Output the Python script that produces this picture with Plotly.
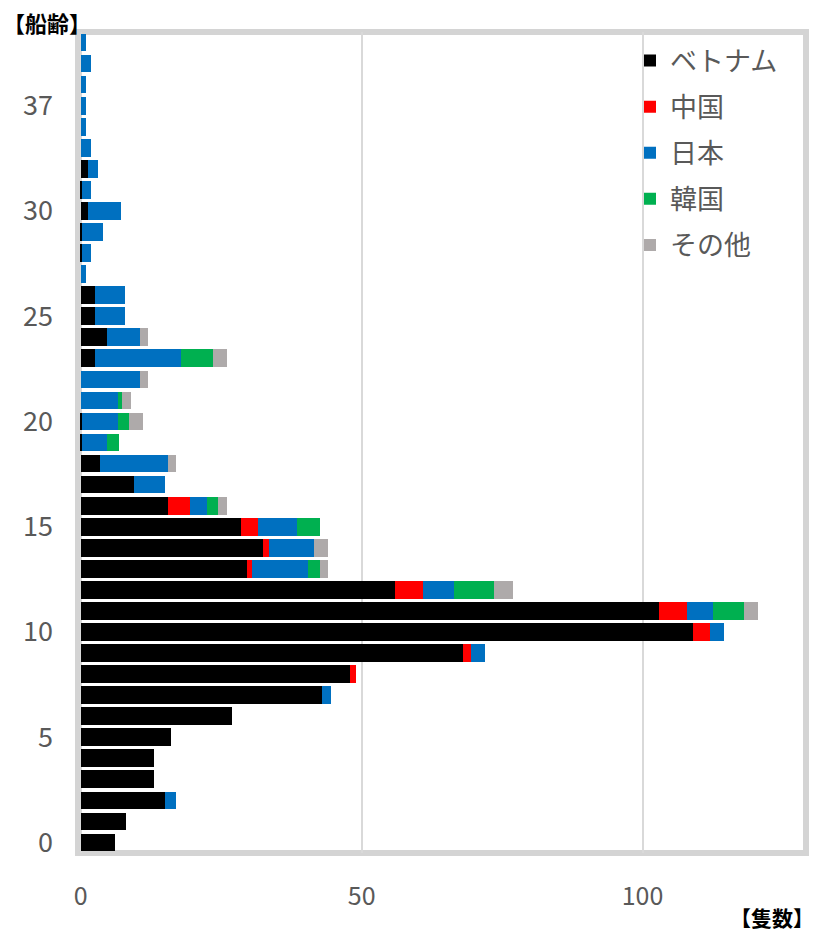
import plotly.graph_objects as go

ages = [str(a) for a in list(range(0, 35)) + [37, 38, 39, 40]]

vietnam = [6, 8, 15, 13, 13, 16, 27, 43, 48, 68, 109, 103, 56, 29.5, 32.5, 28.5, 15.5, 9.5, 3.5,
           0.3, 0.3, 0, 0, 2.5, 4.6, 2.5, 2.5, 0, 0.3, 0.3, 1.3, 0.3, 1.3, 0, 0, 0, 0, 0, 0]
china = [0, 0, 0, 0, 0, 0, 0, 0, 1, 1.5, 3, 5, 5, 1, 1, 3, 4, 0, 0,
         0, 0, 0, 0, 0, 0, 0, 0, 0, 0, 0, 0, 0, 0, 0, 0, 0, 0, 0, 0]
japan = [0, 0, 2, 0, 0, 0, 0, 1.5, 0, 2.5, 2.5, 4.5, 5.5, 10, 8, 7, 3, 5.5, 12,
         4.3, 6.3, 6.6, 10.5, 15.4, 6, 5.4, 5.4, 1, 1.5, 3.6, 5.8, 1.5, 1.7, 1.8, 1, 1, 1, 1.8, 1]
korea = [0, 0, 0, 0, 0, 0, 0, 0, 0, 0, 0, 5.5, 7, 2, 0, 4, 2, 0, 0,
         2.2, 2, 0.8, 0, 5.7, 0, 0, 0, 0, 0, 0, 0, 0, 0, 0, 0, 0, 0, 0, 0]
others = [0, 0, 0, 0, 0, 0, 0, 0, 0, 0, 0, 2.5, 3.5, 1.5, 2.5, 0, 1.5, 0, 1.5,
          0, 2.4, 1.6, 1.5, 2.5, 1.3, 0, 0, 0, 0, 0, 0, 0, 0, 0, 0, 0, 0, 0, 0]

series = [
    ("ベトナム", vietnam, "#000000"),
    ("中国", china, "#FF0000"),
    ("日本", japan, "#0070C0"),
    ("韓国", korea, "#00B050"),
    ("その他", others, "#AEAAAA"),
]

y_ticks = ["0", "5", "10", "15", "20", "25", "30", "37"]
x_ticks = [0, 50, 100]

FONT = "Noto Sans CJK JP"
GREY = "#595959"

fig = go.Figure()
for i, (name, vals, col) in enumerate(series):
    fig.add_trace(go.Bar(
        y=ages, x=vals, name=name, orientation="h",
        marker=dict(color=col, line=dict(width=0)),
        legendgroup=f"g{i}",
    ))

W, H = 820, 934
L, R, T, B = 78, 14, 31.5, 80.5
pw = W - L - R
ph = H - T - B

fig.update_layout(
    width=W, height=H,
    margin=dict(l=L, r=R, t=T, b=B, pad=0),
    barmode="stack", bargap=0.16,
    plot_bgcolor="white", paper_bgcolor="white",
    font=dict(family=FONT, color=GREY, size=26),
    showlegend=True,
    legend=dict(
        x=(630 - L) / pw, y=1 - (36 - T) / ph, xanchor="left", yanchor="top",
        font=dict(family=FONT, size=27, color=GREY),
        bgcolor="rgba(255,255,255,0)", borderwidth=0,
        traceorder="grouped", tracegroupgap=8,
    ),
    xaxis=dict(
        range=[-0.5, 129.1], tickvals=x_ticks, ticktext=[str(v) for v in x_ticks],
        showgrid=True, gridcolor="#D9D9D9", gridwidth=2, zeroline=False,
        showline=False, ticks="", ticklabelstandoff=26,
        tickfont=dict(family=FONT, size=25, color=GREY),
    ),
    yaxis=dict(
        type="category", categoryorder="array", categoryarray=ages,
        range=[-0.5, len(ages) - 0.5],
        tickvals=y_ticks, ticktext=y_ticks,
        showgrid=False, zeroline=False, showline=False, ticks="",
        ticklabelstandoff=24,
        tickfont=dict(family=FONT, size=27, color=GREY),
    ),
    shapes=[dict(
        type="rect", xref="paper", yref="paper", x0=0, x1=1, y0=0, y1=1,
        line=dict(color="#D4D4D4", width=6), layer="below",
    )],
    annotations=[
        dict(text="<b>【船齢】</b>", xref="paper", yref="paper",
             x=(1 - L) / pw, y=1 + (T - 21) / ph, xanchor="left", yanchor="middle",
             showarrow=False, font=dict(family=FONT, size=22, color="#000000")),
        dict(text="<b>【隻数】</b>", xref="paper", yref="paper",
             x=(816 - L) / pw, y=-(918 - (H - B)) / ph, xanchor="right", yanchor="middle",
             showarrow=False, font=dict(family=FONT, size=21, color="#000000")),
    ],
)

fig.write_html("out.html")
